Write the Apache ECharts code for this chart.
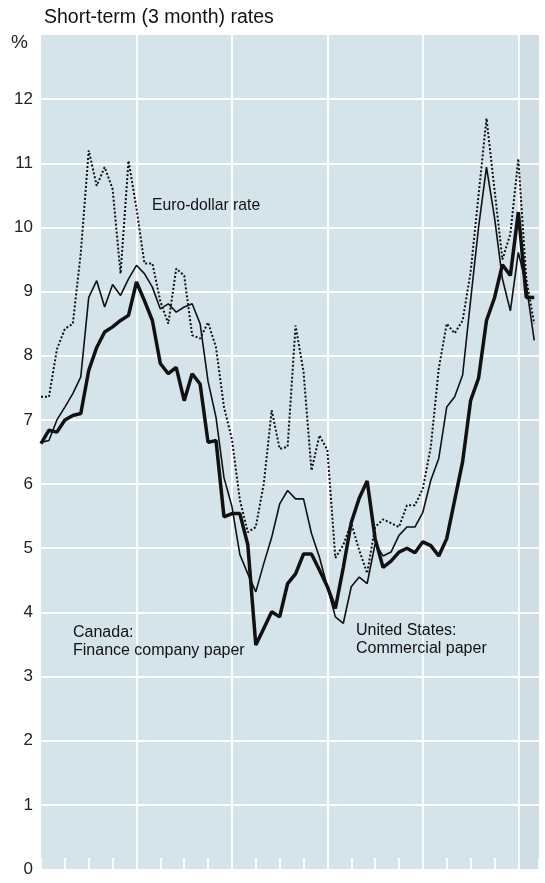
<!DOCTYPE html>
<html>
<head>
<meta charset="utf-8">
<script src="https://cdn.jsdelivr.net/npm/echarts@6/dist/echarts.min.js"></script>
<style>
  html, body { margin: 0; padding: 0; background: #fff; }
  #chart { width: 545px; height: 883px; }
</style>
</head>
<body>
<div id="chart"></div>
<script>
// monthly readings, index 0 = first month on the chart
const canadaPaper = [
  6.63, 6.84, 6.81, 7.0, 7.07, 7.1, 7.77, 8.13, 8.37, 8.45,
  8.55, 8.63, 9.15, 8.86, 8.55, 7.88, 7.72, 7.82, 7.3, 7.72,
  7.56, 6.65, 6.68, 5.49, 5.54, 5.54, 5.05, 3.49, 3.75, 4.01,
  3.93, 4.45, 4.6, 4.91, 4.91, 4.66, 4.4, 4.06, 4.7, 5.4,
  5.78, 6.05, 5.15, 4.7, 4.8, 4.94, 5.0, 4.93, 5.1, 5.04,
  4.88, 5.15, 5.75, 6.35, 7.3, 7.65, 8.55, 8.9, 9.42, 9.25,
  10.24, 8.91, 8.91
];
const usPaper = [
  6.65, 6.68, 7.0, 7.2, 7.41, 7.67, 8.91, 9.17, 8.76, 9.11,
  8.94, 9.2, 9.41, 9.28, 9.07, 8.73, 8.81, 8.68, 8.76, 8.81,
  8.5, 7.6, 7.04, 6.1, 5.65, 4.9, 4.6, 4.32, 4.76, 5.17,
  5.69, 5.9, 5.77, 5.77, 5.23, 4.86, 4.4, 3.93, 3.83, 4.4,
  4.55, 4.45, 5.07, 4.88, 4.94, 5.2, 5.33, 5.33, 5.56, 6.06,
  6.4, 7.2, 7.36, 7.7, 8.86, 10.0, 10.94, 10.16, 9.2, 8.7,
  9.61, 9.1, 8.24
];
const euroDollar = [
  7.36, 7.36, 8.1, 8.42, 8.5, 9.6, 11.2, 10.65, 10.94, 10.6,
  9.28, 11.04, 10.3, 9.44, 9.44, 8.85, 8.5, 9.36, 9.25, 8.32,
  8.27, 8.52, 8.13, 7.2, 6.7, 5.75, 5.25, 5.33, 6.0, 7.15,
  6.55, 6.58, 8.47, 7.75, 6.21, 6.76, 6.53, 4.85, 5.05, 5.39,
  4.97, 4.61, 5.33, 5.45, 5.39, 5.33, 5.67, 5.67, 5.93, 6.58,
  7.8, 8.5, 8.35, 8.55, 9.3, 10.5, 11.7, 10.6, 9.5, 9.9,
  11.07, 9.2, 8.5
];
const yTicks = [0, 1, 2, 3, 4, 5, 6, 7, 8, 9, 10, 11, 12];

const font = "'Liberation Sans', Arial, sans-serif";
const ink = "#111";

function pairs(arr) {
  return arr.map((v, i) => [i, v]);
}

const chart = echarts.init(document.getElementById("chart"));
const option = {
  animation: false,
  backgroundColor: "#fff",
  title: {
    text: "Short-term (3 month) rates",
    left: 39,
    top: 3,
    textStyle: { fontFamily: font, fontSize: 19.5, fontWeight: "normal", color: ink },
  },
  graphic: [
    { type: "text", z: 100, left: 11, top: 33, style: { text: "%", font: "19px " + font, fill: "#222" } },
    { type: "text", z: 100, left: 152, top: 198, style: { text: "Euro-dollar rate", font: "15.7px " + font, fill: ink } },
    {
      type: "text", z: 100, left: 73, top: 624,
      style: { text: "Canada:\nFinance company paper", font: "16px " + font, fill: ink, lineHeight: 18 },
    },
    {
      type: "text", z: 100, left: 356, top: 622,
      style: { text: "United States:\nCommercial paper", font: "16px " + font, fill: ink, lineHeight: 18 },
    },
  ],
  grid: {
    left: 41,
    right: 6,
    top: 35,
    bottom: 14,
    show: true,
    backgroundColor: "#d5e3eb",
    borderWidth: 0,
  },
  xAxis: [
    {
      type: "value",
      min: 0,
      max: 62.6,
      interval: 12,
      axisLine: { show: false },
      axisTick: { show: false },
      axisLabel: { show: false },
      splitLine: {
        show: true,
        showMinLine: false,
        showMaxLine: false,
        lineStyle: { color: "#fff", width: 2 },
      },
    },
    {
      // quarter ticks along the bottom
      type: "value",
      min: 0,
      max: 62.6,
      interval: 3,
      position: "bottom",
      axisLine: { show: false },
      axisTick: { show: true, inside: true, length: 11, lineStyle: { color: "#fff", width: 2 } },
      axisLabel: { show: false },
      splitLine: { show: false },
    },
  ],
  yAxis: {
    type: "value",
    min: 0,
    max: 13,
    interval: 1,
    axisLine: { show: false },
    axisTick: { show: false },
    axisLabel: {
      margin: 8,
      fontFamily: font,
      fontSize: 17,
      color: "#222",
      formatter: (v) => (yTicks.includes(v) ? String(v) : ""),
    },
    splitLine: {
      show: true,
      showMinLine: false,
      showMaxLine: false,
      lineStyle: { color: "#fff", width: 2 },
    },
  },
  series: [
    {
      name: "Euro-dollar rate",
      type: "line",
      data: pairs(euroDollar),
      symbol: "none",
      lineStyle: { color: ink, width: 2, type: [2, 2] },
      markArea: {
        silent: true,
        itemStyle: { color: "rgba(120,135,140,0.06)" },
        data: [[{ xAxis: 60.1 }, { xAxis: 62.6 }]],
      },
      z: 3,
    },
    {
      name: "United States: Commercial paper",
      type: "line",
      data: pairs(usPaper),
      symbol: "none",
      lineStyle: { color: ink, width: 1.6 },
      z: 4,
    },
    {
      name: "Canada: Finance company paper",
      type: "line",
      data: pairs(canadaPaper),
      symbol: "none",
      lineStyle: { color: ink, width: 3.5 },
      z: 5,
    },
  ],
};
chart.setOption(option);
</script>
</body>
</html>
